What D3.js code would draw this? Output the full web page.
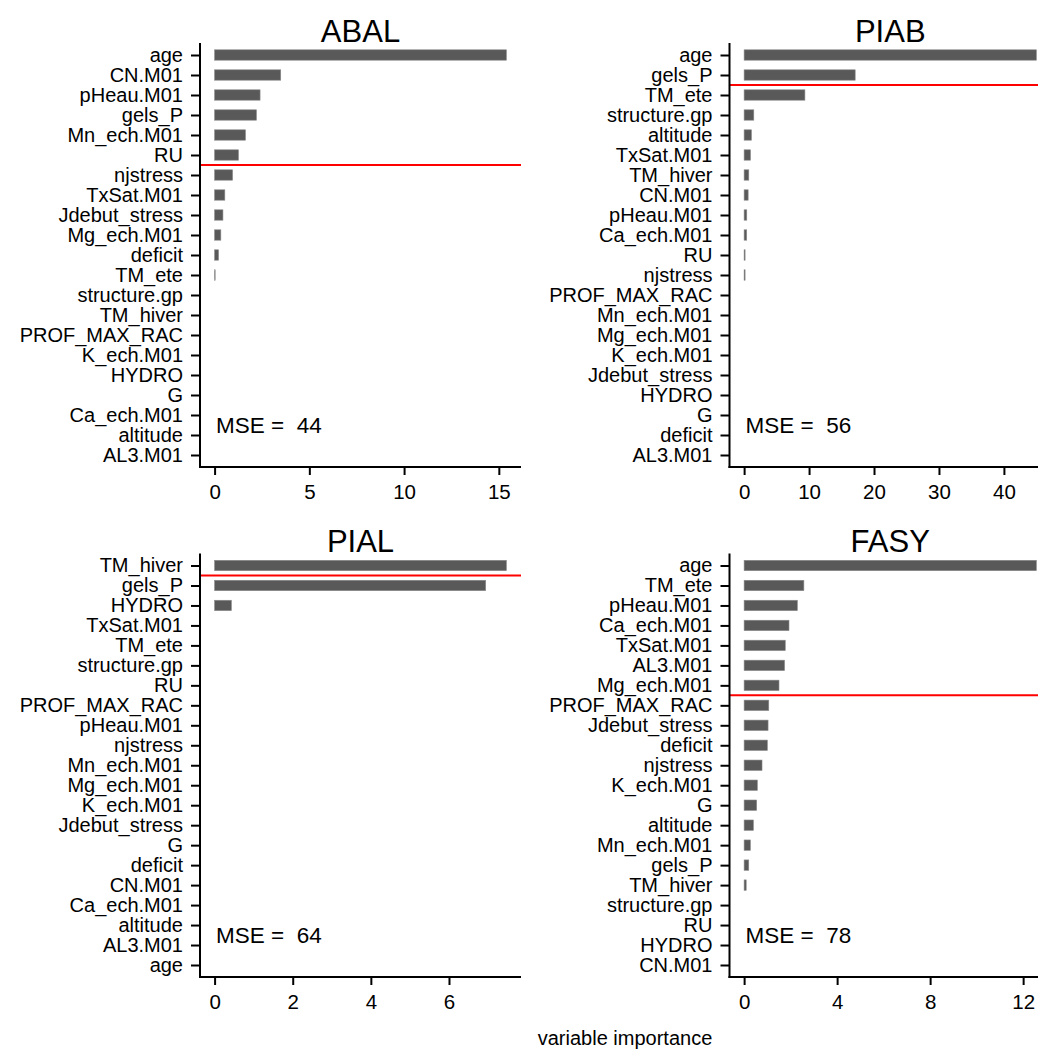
<!DOCTYPE html>
<html>
<head>
<meta charset="utf-8">
<script src="https://cdn.jsdelivr.net/npm/d3@7"></script>
<style>
html,body{margin:0;padding:0;background:#fff;overflow:hidden;}
svg{display:block;font-family:"Liberation Sans",Arial,sans-serif;}
</style>
</head>
<body>
<svg id="chart" width="1038" height="1049"></svg>
<script>
// ---- Data ----
const abalVars = ["age","CN.M01","pHeau.M01","gels_P","Mn_ech.M01","RU","njstress","TxSat.M01","Jdebut_stress","Mg_ech.M01","deficit","TM_ete","structure.gp","TM_hiver","PROF_MAX_RAC","K_ech.M01","HYDRO","G","Ca_ech.M01","altitude","AL3.M01"];
const abalVals = [15.4,3.49,2.40,2.21,1.63,1.26,0.95,0.54,0.44,0.33,0.21,0.03,0,0,0,0,0,0,0,0,0];
const abalTicks = [0,5,10,15];
const abalCut = 6;   // red line drawn above this row
const abalMSE = 44;

const piabVars = ["age","gels_P","TM_ete","structure.gp","altitude","TxSat.M01","TM_hiver","CN.M01","pHeau.M01","Ca_ech.M01","RU","njstress","PROF_MAX_RAC","Mn_ech.M01","Mg_ech.M01","K_ech.M01","Jdebut_stress","HYDRO","G","deficit","AL3.M01"];
const piabVals = [45.0,17.1,9.36,1.49,1.13,0.98,0.72,0.62,0.41,0.40,0.15,0.15,0,0,0,0,0,0,0,0,0];
const piabTicks = [0,10,20,30,40];
const piabCut = 2;
const piabMSE = 56;

const pialVars = ["TM_hiver","gels_P","HYDRO","TxSat.M01","TM_ete","structure.gp","RU","PROF_MAX_RAC","pHeau.M01","njstress","Mn_ech.M01","Mg_ech.M01","K_ech.M01","Jdebut_stress","G","deficit","CN.M01","Ca_ech.M01","altitude","AL3.M01","age"];
const pialVals = [7.47,6.94,0.43,0,0,0,0,0,0,0,0,0,0,0,0,0,0,0,0,0,0];
const pialTicks = [0,2,4,6];
const pialCut = 1;
const pialMSE = 64;

const fasyVars = ["age","TM_ete","pHeau.M01","Ca_ech.M01","TxSat.M01","AL3.M01","Mg_ech.M01","PROF_MAX_RAC","Jdebut_stress","deficit","njstress","K_ech.M01","G","altitude","Mn_ech.M01","gels_P","TM_hiver","structure.gp","RU","HYDRO","CN.M01"];
const fasyVals = [12.57,2.57,2.29,1.93,1.77,1.74,1.50,1.06,1.03,1.00,0.77,0.57,0.54,0.40,0.27,0.20,0.09,0,0,0,0];
const fasyTicks = [0,4,8,12];
const fasyCut = 7;
const fasyMSE = 78;

const xTitle = "variable importance";

// ---- Layout ----
const svg = d3.select("#chart");
const panels = [
  {title:"ABAL", vars:abalVars, vals:abalVals, ticks:abalTicks, cut:abalCut, mse:abalMSE, x0:200, x1:521, y0:43, y1:467},
  {title:"PIAB", vars:piabVars, vals:piabVals, ticks:piabTicks, cut:piabCut, mse:piabMSE, x0:729.5, x1:1051, y0:43, y1:467},
  {title:"PIAL", vars:pialVars, vals:pialVals, ticks:pialTicks, cut:pialCut, mse:pialMSE, x0:200, x1:521, y0:553.5, y1:977},
  {title:"FASY", vars:fasyVars, vals:fasyVals, ticks:fasyTicks, cut:fasyCut, mse:fasyMSE, x0:729.5, x1:1051, y0:553.5, y1:977}
];

panels.forEach(p => {
  const g = svg.append("g");
  const maxV = d3.max(p.vals);
  const x = d3.scaleLinear().domain([-0.05*maxV, 1.05*maxV]).range([p.x0, p.x1]);
  const y = d3.scalePoint().domain(p.vars).range([p.y0 + 12, p.y1 - 12]);
  const step = y.step();
  const bh = step * 0.52;

  // bars
  g.selectAll("rect.bar").data(p.vars.map((v,i)=>({v, val:p.vals[i]})))
    .enter().append("rect")
    .attr("x", x(0))
    .attr("y", d => y(d.v) - bh/2)
    .attr("width", d => Math.max(0, x(d.val) - x(0)))
    .attr("height", bh)
    .attr("fill", "#595959")
    .attr("stroke", d => d.val > 0 ? "#8a8a8a" : "none")
    .attr("stroke-width", 0.6);

  // red threshold line
  const ry = (y(p.vars[p.cut-1]) + y(p.vars[p.cut])) / 2;
  g.append("line").attr("x1", p.x0).attr("x2", p.x1).attr("y1", ry).attr("y2", ry)
    .attr("stroke", "#ff0000").attr("stroke-width", 2);

  // y axis
  const ya = g.append("g").attr("transform", `translate(${p.x0},0)`)
    .call(d3.axisLeft(y).tickSize(9).tickPadding(8).tickSizeOuter(0));
  ya.select(".domain").remove();
  ya.selectAll(".tick line").attr("stroke", "#000").attr("stroke-width", 2).attr("x2", -9);
  ya.selectAll(".tick text").attr("font-size", 20).attr("fill", "#000")
    .attr("font-family", "Liberation Sans, Arial, sans-serif");

  // x axis
  const xa = g.append("g").attr("transform", `translate(0,${p.y1})`)
    .call(d3.axisBottom(x).tickValues(p.ticks).tickFormat(d3.format("d")).tickSize(8).tickPadding(9).tickSizeOuter(0));
  xa.select(".domain").remove();
  xa.selectAll(".tick line").attr("stroke", "#000").attr("stroke-width", 2);
  xa.selectAll(".tick text").attr("font-size", 20.5).attr("fill", "#000")
    .attr("font-family", "Liberation Sans, Arial, sans-serif");

  // axis lines
  g.append("line").attr("x1", p.x0).attr("x2", p.x0).attr("y1", p.y0).attr("y2", p.y1 + 1)
    .attr("stroke", "#000").attr("stroke-width", 2);
  g.append("line").attr("x1", p.x0 - 1).attr("x2", p.x1).attr("y1", p.y1).attr("y2", p.y1)
    .attr("stroke", "#000").attr("stroke-width", 2);

  // title
  g.append("text").attr("x", (p.x0 + p.x1)/2).attr("y", p.y0 - 1.5)
    .attr("text-anchor", "middle").attr("font-size", 31).attr("fill", "#000").text(p.title);

  // MSE annotation
  const n = p.vars.length;
  const my = y(p.vars[n-1]) - 1.5*step;
  g.append("text").attr("x", x(0) + 1.5).attr("y", my).attr("dy", "0.35em")
    .attr("font-size", 22.5).attr("fill", "#000").attr("xml:space","preserve")
    .text("MSE =  " + p.mse);
});

svg.append("text").attr("x", 625).attr("y", 1044.5).attr("text-anchor", "middle")
  .attr("font-size", 20).attr("fill", "#000").text(xTitle);
</script>
</body>
</html>
